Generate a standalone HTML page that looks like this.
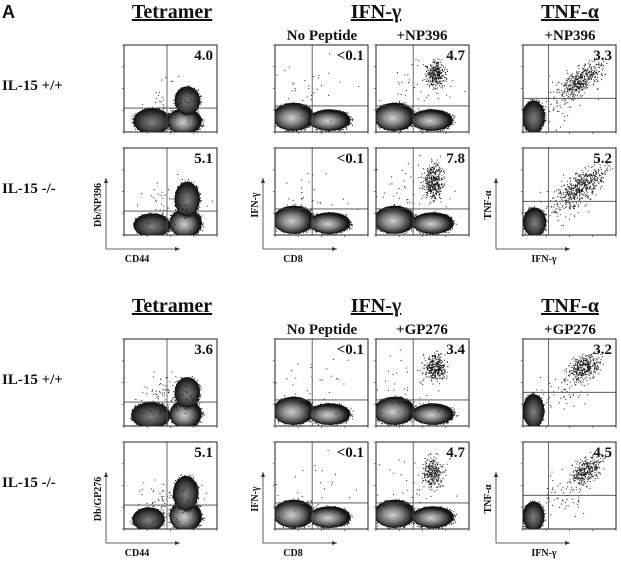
<!DOCTYPE html>
<html><head><meta charset="utf-8">
<style>
html,body{margin:0;padding:0;background:#fff;}
svg{display:block;}
text{font-family:"Liberation Serif",serif;font-weight:bold;fill:#111;}
</style></head>
<body>
<svg id="fig" width="621" height="564" viewBox="0 0 621 564" xmlns="http://www.w3.org/2000/svg">
<defs>
<radialGradient id="gDark" cx="50%" cy="55%" r="50%">
<stop offset="0%" stop-color="#808080"/><stop offset="60%" stop-color="#4a4a4a"/><stop offset="100%" stop-color="#1a1a1a"/>
</radialGradient>
<radialGradient id="gLight" cx="45%" cy="55%" r="50%">
<stop offset="0%" stop-color="#cfcfcf"/><stop offset="45%" stop-color="#8a8a8a"/><stop offset="85%" stop-color="#383838"/><stop offset="100%" stop-color="#151515"/>
</radialGradient>
</defs>
<text x="2" y="18" style="font-family:'Liberation Sans',sans-serif;font-size:18px">A</text>
</svg>
<script>
// Panel geometry columns (left x) and rows (top y)
const colX = [124, 275, 376, 523];
const rowY = [45, 148, 339, 442];
const boxW = 93, boxH = 87;

// Quadrant gates per column [x decade, y decade]
const gatesTet = [1.85, 1.1];
const gatesIfn = [1.6, 1.2];
const gatesTnf = [1.1, 1.55];

// Clusters: [cx, cy, rx, ry, kind(d=dark dense,l=light dense,s=sparse), dotCount, rotDeg]
const tetNPwt = [[1.2,0.5,0.75,0.55,'d',0,0],[2.6,0.5,0.7,0.55,'l',0,0],[2.72,1.45,0.5,0.6,'d',0,0],[2.3,1.4,1.0,0.8,'s',70,0]];
const tetNPko = [[1.2,0.45,0.75,0.5,'d',0,0],[2.65,0.55,0.65,0.6,'l',0,0],[2.72,1.65,0.5,0.75,'d',0,0],[2.0,1.5,1.2,1.0,'s',60,0]];
const tetGPwt = [[1.15,0.5,0.8,0.55,'d',0,0],[2.65,0.55,0.65,0.6,'l',0,0],[2.72,1.55,0.5,0.65,'d',0,0],[2.0,1.4,1.1,0.8,'s',110,0]];
const tetGPko = [[1.05,0.45,0.65,0.5,'d',0,0],[2.65,0.6,0.65,0.65,'l',0,0],[2.65,1.65,0.5,0.75,'d',0,0],[1.9,1.3,1.1,0.9,'s',110,0]];
const ifnNoPep = [[0.8,0.7,0.85,0.6,'l',0,0],[2.35,0.55,0.85,0.45,'l',0,0],[1.5,1.9,1.5,1.2,'s',30,0]];
const ifnNP_wt = [[0.8,0.7,0.85,0.6,'l',0,0],[2.4,0.55,0.85,0.45,'l',0,0],[2.55,2.7,0.35,0.5,'s',320,0],[1.8,2.0,1.4,1.2,'s',50,0]];
const ifnNP_ko = [[0.8,0.7,0.85,0.6,'l',0,0],[2.45,0.55,0.85,0.45,'l',0,0],[2.45,2.45,0.35,0.7,'s',400,0],[1.8,2.0,1.4,1.2,'s',50,0]];
const ifnGP_wt = [[0.8,0.7,0.85,0.6,'l',0,0],[2.45,0.55,0.85,0.45,'l',0,0],[2.55,2.7,0.4,0.5,'s',340,0],[1.6,2.0,1.4,1.2,'s',50,0]];
const ifnGP_ko = [[0.8,0.7,0.85,0.6,'l',0,0],[2.45,0.55,0.85,0.45,'l',0,0],[2.45,2.6,0.35,0.6,'s',280,0],[1.6,2.0,1.4,1.2,'s',40,0]];
const tnfNP_wt = [[0.45,0.7,0.45,0.7,'d',0,0],[2.5,2.4,0.95,0.4,'s',420,-38],[1.8,1.6,1.2,0.8,'s',80,-38]];
const tnfNP_ko = [[0.5,0.6,0.45,0.62,'d',0,0],[2.5,2.2,1.05,0.45,'s',480,-38],[1.7,1.4,1.2,0.8,'s',90,-38]];
const tnfGP_wt = [[0.45,0.7,0.42,0.72,'d',0,0],[2.6,2.7,0.6,0.45,'s',360,-35],[1.9,1.8,1.2,0.8,'s',70,-35]];
const tnfGP_ko = [[0.45,0.6,0.42,0.62,'d',0,0],[2.7,2.7,0.65,0.42,'s',340,-40],[1.9,1.7,1.2,0.8,'s',70,-38]];

// Percentages printed in upper-right quadrant
const pctLabels = ['4.0','<0.1','4.7','3.3','5.1','<0.1','7.8','5.2','3.6','<0.1','3.4','3.2','5.1','<0.1','4.7','4.5'];
const panelClusters = [tetNPwt,ifnNoPep,ifnNP_wt,tnfNP_wt,tetNPko,ifnNoPep,ifnNP_ko,tnfNP_ko,tetGPwt,ifnNoPep,ifnGP_wt,tnfGP_wt,tetGPko,ifnNoPep,ifnGP_ko,tnfGP_ko];
const panelGates = [gatesTet,gatesIfn,gatesIfn,gatesTnf];

const NS = 'http://www.w3.org/2000/svg';
const svg = document.getElementById('fig');
function mk(tag, attrs, parent){const e=document.createElementNS(NS,tag);for(const k in attrs)e.setAttribute(k,attrs[k]);(parent||svg).appendChild(e);return e;}
function frac(v){return v-Math.floor(v);}
// deterministic hash jitter (rendering texture only)
function hsh(n){return frac(Math.sin(n*12.9898+78.233)*43758.5453);}
function gOff(k, seed){const b=k*2.17+seed*101.3;const u1=hsh(b)*0.97+0.015,u2=hsh(b+0.5);const r=Math.min(2.6,Math.sqrt(-2*Math.log(u1)))/1.7;return [r*Math.cos(2*Math.PI*u2),r*Math.sin(2*Math.PI*u2)];}

for (let p = 0; p < 16; p++) {
  const r = Math.floor(p/4), c = p%4;
  const x0 = colX[c], y0 = rowY[r];
  const sx = v => x0 + v/4*boxW;
  const sy = v => y0 + boxH - v/4*boxH;
  const g = mk('g', {});
  
  
  mk('rect',{x:x0,y:y0,width:boxW,height:boxH,fill:'#fff'},g);
  const clip = 'clip'+p;
  const cp = mk('clipPath',{id:clip},g); mk('rect',{x:x0,y:y0,width:boxW,height:boxH},cp);
  const inner = mk('g',{'clip-path':'url(#'+clip+')'},g);
  panelClusters[p].forEach((cl, i) => {
    const [cx,cy,rx,ry,kind,n,rot] = cl;
    const px = sx(cx), py = sy(cy), prx = rx/4*boxW, pry = ry/4*boxH;
    if (kind === 's') {
      const sg = mk('g',{transform:'rotate('+rot+' '+px+' '+py+')'},inner);
      
      
      for (let k = 0; k < n; k++) {
        const o = gOff(k, i+p*3);
        mk('rect',{x:(px+prx*o[0]).toFixed(1),y:(py+pry*o[1]).toFixed(1),width:1,height:1,fill:'#1a1a1a'},sg);
      }
    } else {
      const hg = mk('g',{},inner);
      for (let k = 0; k < 160; k++) {
        const b = k*3.71+p*57.1+i*13.7;
        const th = 2*Math.PI*hsh(b), rr = 0.98 + 0.28*hsh(b+1.3)*hsh(b+2.9);
        mk('rect',{x:(px+prx*rr*Math.cos(th)).toFixed(1),y:(py+pry*rr*Math.sin(th)).toFixed(1),width:1,height:1,fill:'#222'},hg);
      }
      const e = mk('ellipse',{cx:px,cy:py,rx:prx+1,ry:pry+1,fill:'#111'},inner);
      
      
      const e2 = mk('ellipse',{cx:px,cy:py,rx:prx,ry:pry,fill:kind==='d'?'url(#gDark)':'url(#gLight)'},inner);
      
      
    }
  });
  const gt = panelGates[c];
  mk('line',{x1:sx(gt[0]),y1:y0,x2:sx(gt[0]),y2:y0+boxH,stroke:'#555','stroke-width':0.9},g);
  mk('line',{x1:x0,y1:sy(gt[1]),x2:x0+boxW,y2:sy(gt[1]),stroke:'#444','stroke-width':0.9},g);
  mk('rect',{x:x0,y:y0,width:boxW,height:boxH,fill:'none',stroke:'#222','stroke-width':1},g);
  for (let d = 0; d <= 4; d++) {
    mk('line',{x1:x0-2,y1:sy(d),x2:x0,y2:sy(d),stroke:'#555','stroke-width':0.8},g);
    mk('line',{x1:sx(d),y1:y0+boxH,x2:sx(d),y2:y0+boxH+2,stroke:'#555','stroke-width':0.8},g);
  }
  const t = mk('text',{x:x0+boxW-4,y:y0+15,'text-anchor':'end','font-size':15},g);
  
  
  t.textContent = pctLabels[p];
}

function txt(x,y,s,size,name,extra){const t=mk('text',Object.assign({x:x,y:y,'font-size':size},extra||{}));t.textContent=s;return t;}
[0,294].forEach((o,i) => {
  txt(172,18+o,'Tetramer',20,'tetramer-title',{'text-anchor':'middle','text-decoration':'underline'});
  txt(376,18+o,'IFN-γ',20,'ifn-gamma-title',{'text-anchor':'middle','text-decoration':'underline'});
  txt(570,18+o,'TNF-α',20,'tnf-alpha-title',{'text-anchor':'middle','text-decoration':'underline'});
  txt(322,40+o,'No Peptide',15,'no-peptide-label',{'text-anchor':'middle'});
  txt(422,40+o,i?'+GP276':'+NP396',15,'peptide-label',{'text-anchor':'middle'});
  txt(570,40+o,i?'+GP276':'+NP396',15,'tnf-peptide-label',{'text-anchor':'middle'});
  txt(2,90+o,'IL-15 +/+',15,'wildtype-row-label');
  txt(2,193+o,'IL-15 -/-',15,'knockout-row-label');
  [[106,i?'Db/GP276':'Db/NP396','CD44',137],[263,'IFN-γ','CD8',293],[496,'TNF-α','IFN-γ',544]].forEach(a => {
    const ax=a[0], top=178+o, bot=249+o;
    mk('line',{x1:ax,y1:bot,x2:ax,y2:top,stroke:'#333','stroke-width':0.8});
    mk('path',{d:'M'+(ax-2)+' '+(top+5)+' L'+ax+' '+top+' L'+(ax+2)+' '+(top+5)+'Z',fill:'#333'});
    mk('line',{x1:ax,y1:bot,x2:ax+74,y2:bot,stroke:'#333','stroke-width':0.8});
    mk('path',{d:'M'+(ax+69)+' '+(bot-2)+' L'+(ax+74)+' '+bot+' L'+(ax+69)+' '+(bot+2)+'Z',fill:'#333'});
    txt(ax-5,205+o,a[1],10,'y-axis-title',{'text-anchor':'middle',transform:'rotate(-90 '+(ax-5)+' '+(205+o)+')'});
    txt(a[3],262+o,a[2],10,'x-axis-title',{'text-anchor':'middle'});
  });
});
</script>
</body></html>
